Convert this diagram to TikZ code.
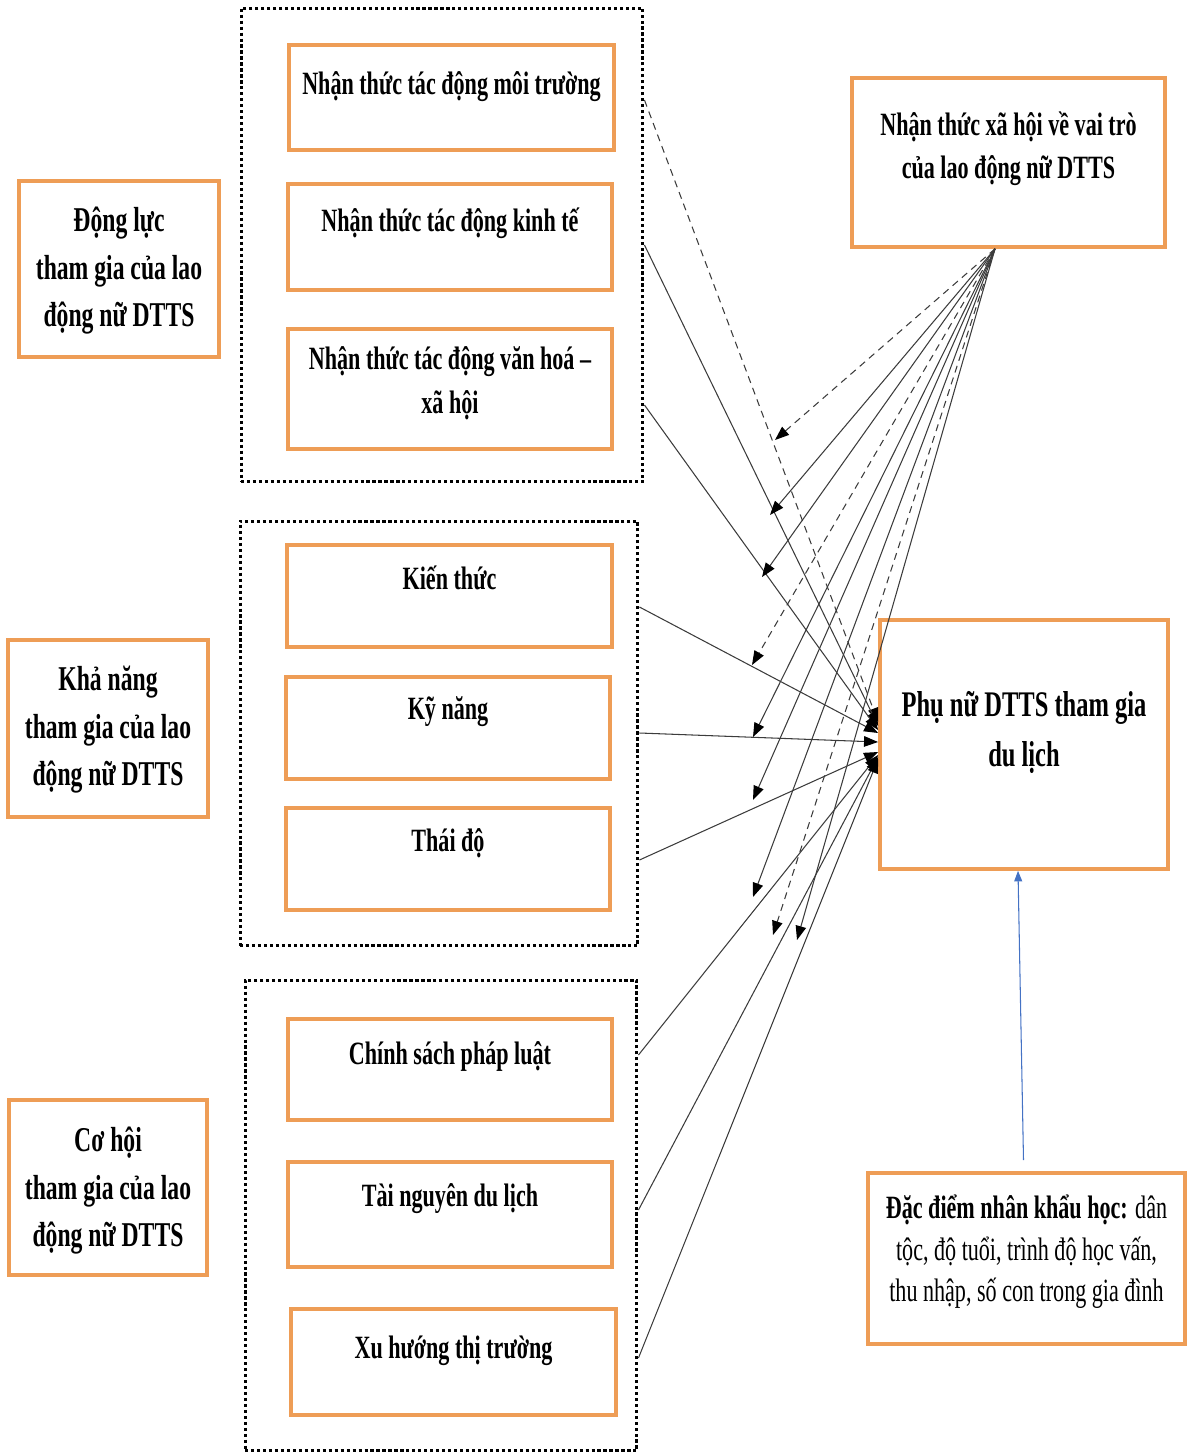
\documentclass[tikz,border=0pt]{standalone}
\usepackage{fontspec}
\setmainfont{Liberation Serif}[FakeStretch=0.68]
\usepackage{tikz}
\usetikzlibrary{calc,arrows.meta}
\definecolor{boxorange}{RGB}{238,157,86}
\definecolor{linegray}{RGB}{60,60,60}
\definecolor{arrowblue}{RGB}{68,114,196}

\begin{document}
\begin{tikzpicture}[x=0.02cm, y=-0.02cm,
    obox/.style={draw=boxorange, line width=2.2pt, anchor=north, inner sep=0pt,
      align=flush center, font=\bfseries\fontsize{18.5}{25}\selectfont},
    sidebox/.style={obox, font=\bfseries\fontsize{19.8}{27}\selectfont},
    grp/.style={draw, line width=1.7pt, dash pattern=on 1.8pt off 1.6pt, inner sep=0pt},
    link/.style={draw=linegray, line width=0.6pt, -{Triangle[length=8pt,width=6pt,color=black]}},
    dlink/.style={link, dash pattern=on 4pt off 3pt},
    uplink/.style={draw=arrowblue, line width=0.6pt, -{Triangle[length=6pt,width=4.5pt]}}]
    \useasboundingbox (0,0) rectangle (1195,1454);
    % Dotted groups
    \node[grp, minimum width=8.04cm, minimum height=9.48cm] (g1) at (442,245) {};
    \node[grp, minimum width=7.96cm, minimum height=8.5cm] (g2) at (439,733.5) {};
    \node[grp, minimum width=7.84cm, minimum height=9.42cm] (g3) at (441,1215.5) {};
    % Boxes of the first group
    \node[obox, text width=6.5cm, text height=1.0cm, text depth=1.1cm] (mt) at (451.5,43) {Nhận thức tác động môi trường};
    \node[obox, text width=6.48cm, text height=0.96cm, text depth=1.16cm] (kte) at (450,182) {Nhận thức tác động kinh tế};
    \node[obox, text width=6.48cm, text height=0.82cm, text depth=1.58cm] (vh) at (450,327) {Nhận thức tác động văn hoá –\\ xã hội};
    % Boxes of the second group
    \node[obox, text width=6.5cm, text height=0.9cm, text depth=1.14cm] (kt) at (449.5,543) {Kiến thức};
    \node[obox, text width=6.48cm, text height=0.86cm, text depth=1.18cm] (kn) at (448,675) {Kỹ năng};
    \node[obox, text width=6.48cm, text height=0.88cm, text depth=1.16cm] (td) at (448,806) {Thái độ};
    % Boxes of the third group
    \node[obox, text width=6.48cm, text height=0.92cm, text depth=1.1cm] (cs) at (450,1017) {Chính sách pháp luật};
    \node[obox, text width=6.48cm, text height=0.9cm, text depth=1.2cm] (tn) at (450,1160) {Tài nguyên du lịch};
    \node[obox, text width=6.5cm, text height=1.0cm, text depth=1.12cm] (xh) at (453.5,1307) {Xu hướng thị trường};
    % Side boxes
    \node[sidebox, text width=4.0cm, text height=1.02cm, text depth=2.5cm] (dl) at (119,179) {Động lực\\ tham gia của lao\\ động nữ DTTS};
    \node[sidebox, text width=4.0cm, text height=1.02cm, text depth=2.52cm] (khn) at (108,638) {Khả năng\\ tham gia của lao\\ động nữ DTTS};
    \node[sidebox, text width=3.96cm, text height=1.04cm, text depth=2.46cm] (ch) at (108,1098) {Cơ hội\\ tham gia của lao\\ động nữ DTTS};
    % Right boxes
    \node[obox, text width=6.26cm, text height=1.16cm, text depth=2.22cm,
      font=\bfseries\fontsize{18.5}{24.4}\selectfont] (nxh) at (1008.5,76) {Nhận thức xã hội về vai trò\\ của lao động nữ DTTS};
    \node[obox, text width=5.76cm, text height=1.94cm, text depth=3.04cm,
      font=\bfseries\fontsize{20.5}{28.4}\selectfont] (pn) at (1024,618) {Phụ nữ DTTS tham gia\\ du lịch};
    \node[obox, text width=6.34cm, text height=0.92cm, text depth=2.5cm,
      font=\fontsize{18.5}{23.5}\selectfont] (dd) at (1026.5,1171) {\textbf{Đặc điểm nhân khẩu học:} dân\\ tộc, độ tuổi, trình độ học vấn,\\ thu nhập, số con trong gia đình};
    % Links into the main box
    \draw[dlink] (g1.east |- 0,100) -- (pn.west |- 0,722);
    \foreach \b/\g/\s/\e in {kte/g1/245/726, vh/g1/405/730, kt/g2/607/733, kn/g2/733/742,
        td/g2/860/752, cs/g3/1055/755, tn/g3/1210/757, xh/g3/1358/759}
      \draw[link] (\g.east |- 0,\s) -- (pn.west |- 0,\e);
    % Moderating links from the top right box
    \coordinate (apex) at (nxh.south -| 995,0);
    \foreach \n/\x/\y in {a/775/440, b/770/515, c/762/577, d/752/665, e/753/737,
        f/753/800, g/753/897, h/773/935, i/797/940}
      \coordinate (m\n) at (\x,\y);
    \foreach \n in {b,c,e,f,g,i}
      \draw[link] (apex) -- (m\n);
    \foreach \n in {a,d,h}
      \draw[dlink] (apex) -- (m\n);
    % Demographic link
    \draw[uplink] ([shift={(-3,-11)}]dd.north) -- ([xshift=-0.12cm]pn.south);
\end{tikzpicture}
\end{document}
